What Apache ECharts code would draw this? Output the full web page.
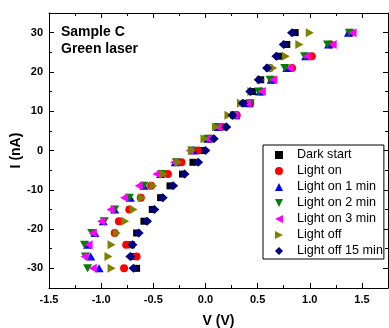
<!DOCTYPE html>
<html>
<head>
<meta charset="utf-8">
<script src="https://cdn.jsdelivr.net/npm/echarts@6/dist/echarts.min.js"></script>
<style>
html,body{margin:0;padding:0;background:#fff;}
#chart{width:389px;height:328px;}
</style>
</head>
<body>
<div id="chart"></div>
<script>
// Current (nA) for each measured row
var current = [30,27,24,21,18,15,12,9,6,3,0,-3,-6,-9,-12,-15,-18,-21,-24,-27,-30];
// Voltage (V) for each series, same order as current
var darkStart   = [0.86,0.78,0.70,0.61,0.53,0.45,0.37,0.27,0.18,0.06,-0.04,-0.12,-0.22,-0.34,-0.43,-0.51,-0.59,-0.66,-0.71,-0.70,-0.66];
var lightOn     = [1.39,1.20,1.02,0.83,0.64,0.53,0.43,0.30,0.14,0.04,-0.07,-0.23,-0.36,-0.52,-0.62,-0.73,-0.83,-0.87,-0.76,-0.66,-0.78];
var lightOn1    = [1.37,1.18,0.96,0.78,0.63,0.52,0.42,0.29,0.12,0.02,-0.12,-0.29,-0.43,-0.59,-0.72,-0.87,-0.98,-1.06,-1.13,-1.10,-1.02];
var lightOn2    = [1.38,1.17,0.95,0.76,0.62,0.51,0.43,0.28,0.12,0.02,-0.13,-0.28,-0.42,-0.59,-0.73,-0.87,-0.97,-1.09,-1.16,-1.15,-1.13];
var lightOn3    = [1.41,1.22,0.97,0.81,0.65,0.54,0.40,0.28,0.12,0.02,-0.15,-0.30,-0.47,-0.64,-0.78,-0.91,-1.00,-1.08,-1.12,-1.16,-1.08];
var lightOff    = [1.00,0.90,0.77,0.65,0.53,0.44,0.34,0.22,0.10,-0.01,-0.13,-0.26,-0.40,-0.50,-0.61,-0.69,-0.77,-0.85,-0.90,-0.93,-0.90];
var lightOff15  = [0.83,0.75,0.68,0.59,0.51,0.43,0.36,0.26,0.20,0.08,0.00,-0.07,-0.20,-0.31,-0.41,-0.49,-0.56,-0.64,-0.70,-0.72,-0.69];

var seriesNames = ['Dark start','Light on','Light on 1 min','Light on 2 min','Light on 3 min','Light off','Light off 15 min'];
var seriesValues = [darkStart, lightOn, lightOn1, lightOn2, lightOn3, lightOff, lightOff15];
var xTickLabels = ['-1.5','-1.0','-0.5','0.0','0.5','1.0','1.5'];
var yTickValues = [-30,-20,-10,0,10,20,30];

var colors = ['#000000','#ff0000','#0000ff','#008000','#ff00ff','#808000','#000080'];
var symbols = [
  'path://M0,0H10V10H0Z',
  'path://M5,0A5,5 0 1,1 5,10A5,5 0 1,1 5,0Z',
  'path://M5,0L10,10L0,10Z',
  'path://M0,0L10,0L5,10Z',
  'path://M10,0L10,10L0,5Z',
  'path://M0,0L10,5L0,10Z',
  'path://M5,0L10,5L5,10L0,5Z'
];
var sizes = [[7,7],[8,8],[9,8],[9,8],[8,9],[8,9],[10,9]];

function pairs(vals){ return vals.map(function(v,i){ return [v, current[i]]; }); }

var FONT = '"Liberation Sans", Arial, sans-serif';
var chart = echarts.init(document.getElementById('chart'), null, {renderer:'canvas'});

var xMajor = {min:-1.5,max:1.75,interval:0.5};
var xMinor = {min:-1.5,max:1.75,interval:0.25};
var yRange = {min:-35,max:35};

function xAxisDef(pos, minor, main){
  var r = minor ? xMinor : xMajor;
  return {
    type:'value', position:pos, min:r.min, max:r.max, interval:r.interval,
    axisLine:{show:!minor, onZero:false, lineStyle:{color:'#000',width:1}},
    axisTick:{show:true, inside:true, length: minor?3:5, lineStyle:{color:'#000',width:1}},
    splitLine:{show:false},
    axisLabel:{show:!!main, margin:6, color:'#000', fontFamily:FONT, fontWeight:'bold', fontSize:11,
      formatter:function(v){ var s = (Math.round(v*10)/10).toFixed(1); return xTickLabels.indexOf(s)>=0 && Math.abs(v*2-Math.round(v*2))<1e-6 ? s : ''; }},
    name: main ? 'V (V)' : '', nameLocation:'middle', nameGap:26, nameMoveOverlap:false,
    nameTextStyle:{color:'#000', fontFamily:FONT, fontWeight:'bold', fontSize:14}
  };
}
function yAxisDef(pos, minor, main){
  var d = {
    type:'value', position:pos, min:yRange.min, max:yRange.max, interval:5,
    axisLine:{show:!minor, onZero:false, lineStyle:{color:'#000',width:1}},
    axisTick:{show:true, inside:true, length: minor?3:5, lineStyle:{color:'#000',width:1}},
    splitLine:{show:false},
    axisLabel:{show:!!main, margin:6, color:'#000', fontFamily:FONT, fontWeight:'bold', fontSize:11},
    name: main ? 'I (nA)' : '', nameLocation:'middle', nameGap:26, nameMoveOverlap:false,
    nameTextStyle:{color:'#000', fontFamily:FONT, fontWeight:'bold', fontSize:14}
  };
  if (!minor) {
    d.axisTick.customValues = yTickValues;
    d.axisLabel.customValues = yTickValues;
  }
  return d;
}

var series = seriesNames.map(function(n, k){
  return {
    name:n, type:'scatter', xAxisIndex:0, yAxisIndex:0,
    symbol:symbols[k], symbolSize:sizes[k],
    itemStyle:{color:colors[k], opacity:1},
    data: pairs(seriesValues[k]),
    z: 2+k, animation:false
  };
});

chart.setOption({
  backgroundColor:'#fff',
  animation:false,
  grid:{left:49, right:1, top:13, bottom:40, containLabel:false, outerBoundsMode:'none'},
  title:{text:'Sample C\nGreen laser', left:61, top:24, padding:0,
    textStyle:{color:'#000', fontFamily:FONT, fontWeight:'bold', fontSize:14, lineHeight:17}},
  xAxis:[xAxisDef('bottom',false,true), xAxisDef('bottom',true,false), xAxisDef('top',false,false), xAxisDef('top',true,false)],
  yAxis:[yAxisDef('left',false,true), yAxisDef('left',true,false), yAxisDef('right',false,false), yAxisDef('right',true,false)],
  legend:{
    orient:'vertical', left:263, top:145,
    padding:[2,1,0,12], itemGap:0, itemWidth:26, itemHeight:8,
    symbolKeepAspect:true,
    backgroundColor:'#fff', borderColor:'#000', borderWidth:1, borderRadius:0,
    textStyle:{color:'#000', fontFamily:FONT, fontSize:12.6, lineHeight:16},
    data: seriesNames.map(function(n,k){ return {name:n, icon:symbols[k]}; })
  },
  series: series
});
</script>
</body>
</html>
